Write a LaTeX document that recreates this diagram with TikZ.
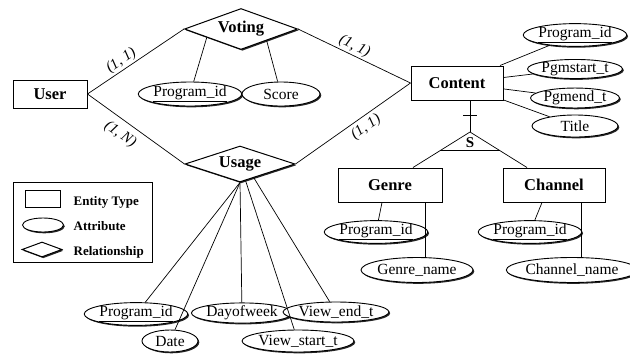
\documentclass[tikz,border=0pt]{standalone}
\usepackage{fontspec}
\setmainfont{Liberation Serif}
\usetikzlibrary{shapes.geometric,shadows,calc}

\begin{document}
\begin{tikzpicture}[x=1pt,y=-1pt,line width=0.7pt,
    shdw/.style={drop shadow={shadow xshift=1.3pt,shadow yshift=-1.3pt,fill=black,opacity=0.85}},
    entity/.style={draw,line width=1pt,fill=white,shdw,minimum height=34pt,font=\fontsize{16.5}{18}\selectfont\bfseries},
    rel/.style={diamond,draw,line width=1pt,fill=white,shdw,inner sep=0pt,aspect=2.7,font=\fontsize{16.5}{18}\selectfont\bfseries},
    attr/.style={ellipse,draw,line width=0.9pt,fill=white,shdw,inner sep=0pt,minimum height=20pt,font=\fontsize{15.5}{17}\selectfont},
    card/.style={font=\fontsize{15}{17}\selectfont\itshape,sloped,inner sep=1.5pt},
    keytext/.style={anchor=base west,font=\fontsize{13}{15}\selectfont\bfseries}]
    \useasboundingbox (0,0) rectangle (630,360);

    % Entities
    \node[entity,minimum width=74pt,minimum height=28pt] (user) at (50,94) {User};
    \node[entity,minimum width=92pt] (content) at (457,83) {Content};
    \node[entity,minimum width=104pt] (genre) at (390,185) {Genre};
    \node[entity,minimum width=102pt] (channel) at (554,185) {Channel};

    % Relationships
    \node[rel,minimum width=113pt,minimum height=41pt] (voting) at (241,29) {Voting};
    \node[rel,minimum width=110pt,minimum height=36pt] (usage) at (240,164) {Usage};

    % Attributes of Voting
    \node[attr,minimum width=89pt,minimum height=24pt] (vpid) at (190,94) {\underline{Program\_id}};
    \node[attr,minimum width=78pt,minimum height=24pt] (score) at (281,94) {Score};

    % Attributes of Content
    \node[attr,minimum width=86pt,minimum height=19pt] (cpid) at (575,35) {\underline{Program\_id}};
    \node[attr,minimum width=86pt,minimum height=19pt] (cstart) at (575,69) {Pgmstart\_t};
    \node[attr,minimum width=86pt,minimum height=19pt] (cend) at (575,98) {Pgmend\_t};
    \node[attr,minimum width=86pt,minimum height=22pt] (title) at (575,126) {Title};

    % Attributes of Usage
    \node[attr,minimum width=88pt] (upid) at (136,314) {\underline{Program\_id}};
    \node[attr,minimum width=85pt] (dow) at (242,313) {Dayofweek};
    \node[attr,minimum width=92pt] (vend) at (336,312) {View\_end\_t};
    \node[attr,minimum width=56pt,minimum height=22pt] (date) at (170,341) {Date};
    \node[attr,minimum width=90pt,minimum height=22pt] (vstart) at (298,341) {View\_start\_t};

    % Attributes of Genre and Channel
    \node[attr,minimum width=88pt] (gpid) at (376,232) {\underline{Program\_id}};
    \node[attr,minimum width=99pt,minimum height=25pt] (gname) at (417,270) {Genre\_name};
    \node[attr,minimum width=86pt] (chpid) at (530,232) {\underline{Program\_id}};
    \node[attr,minimum width=105pt,minimum height=25pt] (chname) at (572,270) {Channel\_name};

    % Legend
    \node[draw,line width=0.9pt,minimum width=139pt,minimum height=80pt] (legend) at (82.5,222) {};
    \node[draw,line width=1pt,fill=white,shdw,minimum width=35pt,minimum height=17pt,inner sep=0pt] (keyent) at (42.5,198.5) {};
    \node[attr,minimum width=41pt,minimum height=14pt] (keyatt) at (43,225) {};
    \node[rel,minimum width=40pt,minimum height=15pt] (keyrel) at (42,249.5) {};
    \node[keytext] (txent) at (70,205) {Entity Type};
    \node[keytext] (txatt) at (70,230) {Attribute};
    \node[keytext] (txrel) at (70,255) {Relationship};

    % Relationship edges
    \draw (user.east) -- node[card,above,pos=0.4] {(1, 1)} (voting.west);
    \draw (user.east) -- node[card,below=5pt,pos=0.42] {(1, N)} (usage.west);
    \draw (voting.east) -- node[card,above,pos=0.47] {(1, 1)} (content.west);
    \draw (usage.east) -- node[card,below=2pt,pos=0.56] {(1, 1)} (content.west);

    % Attribute edges
    \draw ($(voting.west)!0.4!(voting.south)$) -- (vpid);
    \draw ($(voting.south)!0.45!(voting.east)$) -- (score);

    \draw (content) -- (cpid);
    \draw (content) -- (cstart);
    \draw (content) -- (cend);
    \draw (content) -- (title);

    \draw (usage.south) -- (upid);
    \draw (usage.south) -- (date);
    \draw (usage.south) -- (dow);
    \draw ($(usage.south)!0.1!(usage.east)$) -- (vstart);
    \draw ($(usage.south)!0.25!(usage.east)$) -- (vend);

    \draw ([xshift=-8pt]genre.south) -- (gpid);
    \draw ([xshift=35pt]genre.south) -- ([xshift=35pt]genre.south |- gname.north);
    \draw ([xshift=-12pt]channel.south) -- (chpid);
    \draw ([xshift=27pt]channel.south) -- ([xshift=27pt]channel.south |- chname.north);

    % Specialization of Content
    \coordinate (apex) at (470,132);
    \coordinate (tick) at (470,115);
    \coordinate (gtop) at ([xshift=23pt]genre.north);
    \coordinate (ctop) at ([xshift=-27pt]channel.north);
    \draw ([xshift=13pt]content.south) -- (apex);
    \draw ([xshift=-7pt]tick) -- ([xshift=7pt]tick);
    \draw (apex) -- (gtop);
    \draw (apex) -- (ctop);
    \draw[line width=1pt] ($(apex)!0.53!(gtop)$) -- ($(apex)!0.53!(ctop)$);
    \node[font=\fontsize{15}{17}\selectfont\bfseries] (spec) at (470,143) {S};
  \end{tikzpicture}
\end{document}
